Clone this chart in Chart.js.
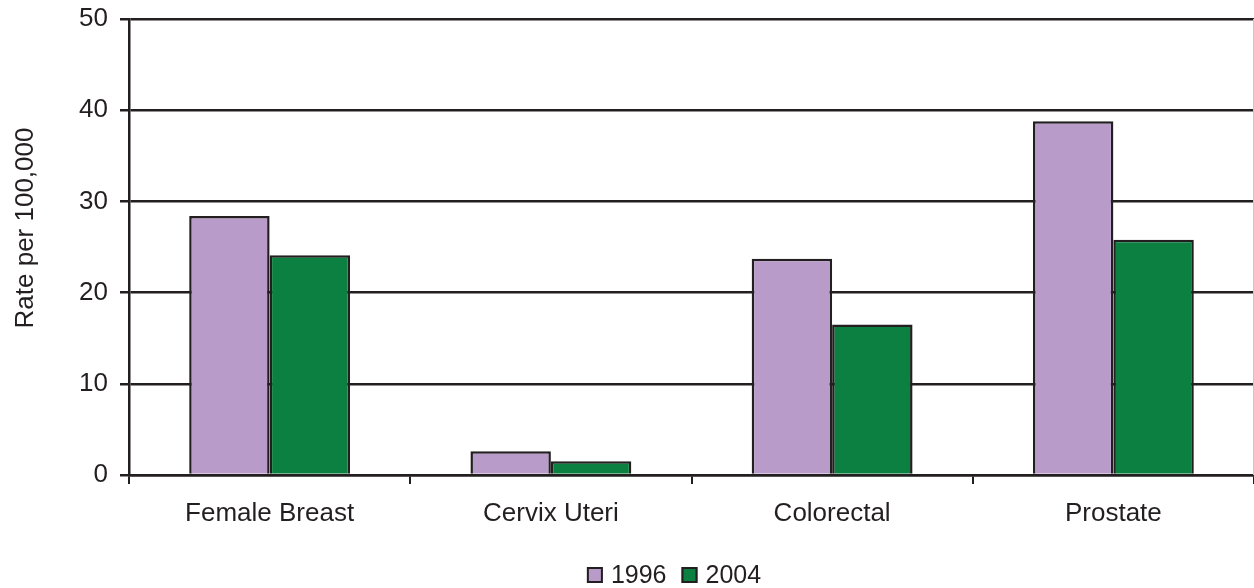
<!DOCTYPE html>
<html>
<head>
<meta charset="utf-8">
<script src="https://cdn.jsdelivr.net/npm/chart.js@4.4.1/dist/chart.umd.min.js"></script>
<style>
  html, body { margin: 0; padding: 0; background: #ffffff; }
  #wrap { width: 1254px; height: 588px; }
</style>
</head>
<body>
<div id="wrap"><canvas id="chart" width="1254" height="588"></canvas></div>
<script>
// Cancer death rates per 100,000 by site
const categories = ['Female Breast', 'Cervix Uteri', 'Colorectal', 'Prostate'];
const seriesNames = ['1996', '2004'];
const values1996 = [28.4, 2.6, 23.7, 38.8];
const values2004 = [24.1, 1.5, 16.5, 25.8];
const yTicks = [0, 10, 20, 30, 40, 50];
const yTitle = 'Rate per 100,000';

const INK = '#231f20';
const PURPLE = '#b89bc9';
const GREEN = '#0b8041';
const FONT = '"Liberation Sans", Arial, sans-serif';

// Draws the axis title and the legend below the category labels
const decorations = {
  id: 'decorations',
  afterDraw(chart) {
    const ctx = chart.ctx;
    const area = chart.chartArea;
    ctx.save();

    // thin frame line on the right edge of the plot
    ctx.strokeStyle = '#c8c8c8';
    ctx.lineWidth = 1;
    ctx.beginPath();
    ctx.moveTo(area.right - 0.5, area.top);
    ctx.lineTo(area.right - 0.5, area.bottom);
    ctx.stroke();

    // vertical axis title
    ctx.fillStyle = INK;
    ctx.font = '26px ' + FONT;
    ctx.textAlign = 'center';
    ctx.textBaseline = 'middle';
    ctx.translate(26, 228);
    ctx.rotate(-Math.PI / 2);
    ctx.fillText(yTitle, 0, 0);
    ctx.restore();

    // legend
    ctx.save();
    ctx.font = '25px ' + FONT;
    const box = 16, gap = 8, itemGap = 15;
    const colors = chart.data.datasets.map(d => d.backgroundColor);
    const widths = seriesNames.map(n => box + gap + ctx.measureText(n).width);
    const total = widths.reduce((a, b) => a + b, 0) + itemGap * (seriesNames.length - 1);
    let x = 674 - total / 2;
    const boxTop = 567;
    seriesNames.forEach((name, i) => {
      ctx.fillStyle = colors[i];
      ctx.fillRect(x, boxTop, box, box);
      ctx.strokeStyle = INK;
      ctx.lineWidth = 2;
      ctx.strokeRect(x + 1, boxTop + 1, box - 2, box - 2);
      ctx.fillStyle = INK;
      ctx.textAlign = 'left';
      ctx.textBaseline = 'alphabetic';
      ctx.fillText(name, x + box + gap, 583);
      x += widths[i] + itemGap;
    });
    ctx.restore();
  }
};

new Chart(document.getElementById('chart'), {
  type: 'bar',
  data: {
    labels: categories,
    datasets: [
      {
        label: seriesNames[0],
        data: values1996,
        backgroundColor: PURPLE,
        borderColor: INK,
        borderWidth: 2.5,
        categoryPercentage: 0.572,
        barPercentage: 1.0
      },
      {
        label: seriesNames[1],
        data: values2004,
        backgroundColor: GREEN,
        borderColor: INK,
        borderWidth: 2.5,
        categoryPercentage: 0.572,
        barPercentage: 1.0
      }
    ]
  },
  options: {
    responsive: false,
    animation: false,
    events: [],
    layout: { padding: { top: 19, right: 0, bottom: 0, left: 0 } },
    plugins: {
      legend: { display: false },
      tooltip: { enabled: false }
    },
    scales: {
      x: {
        offset: true,
        grid: {
          offset: true,
          drawOnChartArea: false,
          drawTicks: true,
          tickLength: 9,
          color: INK,
          lineWidth: 2
        },
        border: { display: true, color: INK, width: 2.5 },
        ticks: {
          color: INK,
          font: { family: FONT, size: 26 },
          padding: 14,
          maxRotation: 0
        },
        afterFit(scale) {
          scale.height = 113;
          scale.paddingLeft = 0;
          scale.paddingRight = 0;
        }
      },
      y: {
        min: 0,
        max: 50,
        afterBuildTicks(scale) { scale.ticks = yTicks.map(v => ({ value: v })); },
        grid: {
          color: INK,
          lineWidth: 2.5,
          drawTicks: true,
          tickLength: 9
        },
        border: { display: true, color: INK, width: 2.5 },
        ticks: {
          color: INK,
          font: { family: FONT, size: 26 },
          padding: 12
        },
        afterFit(scale) {
          scale.width = 129;
          scale.paddingTop = 0;
          scale.paddingBottom = 0;
        }
      }
    }
  },
  plugins: [decorations]
});
</script>
</body>
</html>
